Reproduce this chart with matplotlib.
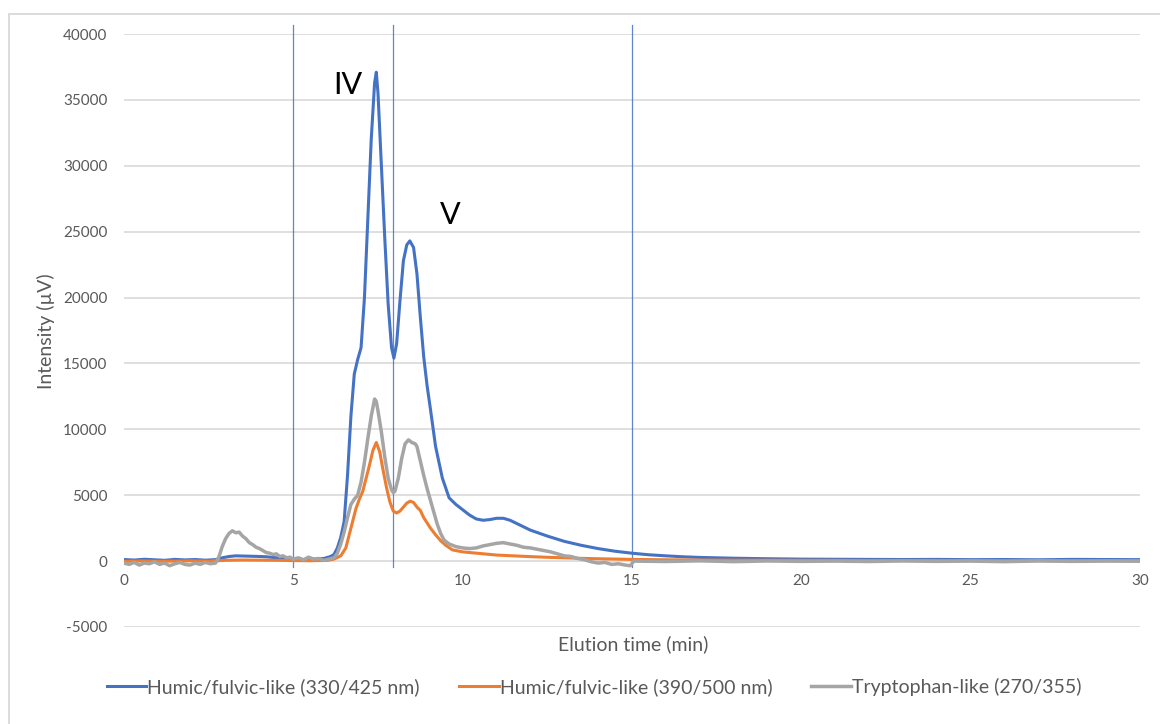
import numpy as np
from matplotlib import pyplot as plt
from matplotlib.patches import Rectangle

plt.rcParams['font.family'] = ['Lato', 'DejaVu Sans']
plt.rcParams['axes.unicode_minus'] = False

# Humic/fulvic-like (330/425 nm)
t_hum1 = [0, 0.3, 0.6, 0.9, 1.2, 1.5, 1.8, 2.1, 2.4, 2.7, 2.9, 3.1, 3.3, 3.6, 3.9,
          4.2, 4.5, 4.8, 5.0, 5.3, 5.6, 5.9, 6.1, 6.2, 6.3, 6.4, 6.5, 6.6, 6.7, 6.8,
          6.9, 7.0, 7.1, 7.2, 7.3, 7.4, 7.45, 7.5, 7.6, 7.7, 7.8, 7.9, 7.97, 8.05,
          8.15, 8.25, 8.35, 8.44, 8.55, 8.65, 8.75, 8.85, 8.95, 9.05, 9.2, 9.4, 9.6,
          9.8, 10.0, 10.2, 10.4, 10.6, 10.8, 11.0, 11.2, 11.4, 11.6, 11.8, 12.0, 12.5,
          13.0, 13.5, 14.0, 14.5, 15.0, 15.5, 16.0, 16.5, 17, 18, 19, 20, 21, 22, 23,
          24, 25, 26, 27, 28, 29, 30]
i_hum1 = [120, 80, 140, 100, 60, 130, 90, 120, 70, 110, 250, 350, 400, 380, 360,
          330, 250, 180, 150, 120, 150, 200, 350, 500, 1000, 1800, 3000, 6500, 11000, 14200,
          15300, 16200, 20000, 26000, 32000, 36300, 37100, 35500, 30000, 24500, 19500, 16200, 15400, 16500,
          19800, 22800, 24000, 24300, 23800, 21800, 18500, 15500, 13300, 11500, 8700, 6300, 4800,
          4300, 3900, 3500, 3200, 3100, 3150, 3250, 3250, 3100, 2850, 2600, 2350, 1900,
          1500, 1200, 950, 750, 600, 480, 400, 330, 280, 220, 180, 150, 140, 130, 120,
          130, 110, 120, 100, 130, 120, 110]

# Humic/fulvic-like (390/500 nm)
t_hum2 = [0, 0.5, 1.0, 1.5, 2.0, 2.5, 3.0, 3.5, 4.0, 4.5, 5.0, 5.5, 6.0, 6.2, 6.4,
          6.55, 6.7, 6.85, 6.95, 7.05, 7.15, 7.25, 7.35, 7.45, 7.55, 7.65, 7.75, 7.85,
          7.95, 8.05, 8.15, 8.25, 8.35, 8.45, 8.55, 8.65, 8.75, 8.85, 8.95, 9.05, 9.2,
          9.35, 9.5, 9.7, 10.0, 10.5, 11, 11.5, 12, 12.5, 13, 13.5, 14, 15, 16, 17, 18,
          20, 22, 24, 26, 28, 30]
i_hum2 = [-20, 10, -10, 0, 20, 0, 60, 80, 70, 60, 40, 30, 50, 150, 400,
          1000, 2500, 4000, 4700, 5300, 6300, 7300, 8400, 9000, 8300, 6900, 5600, 4500,
          3800, 3650, 3800, 4100, 4400, 4550, 4450, 4100, 3850, 3300, 2900, 2500, 2000,
          1550, 1200, 850, 700, 580, 460, 400, 340, 290, 250, 210, 180, 130, 100, 80, 70,
          60, 50, 50, 40, 40, 40]

# Tryptophan-like (270/355)
t_tryp = [0.0, 0.15, 0.3, 0.45, 0.6, 0.75, 0.9, 1.05, 1.2, 1.35, 1.5, 1.65, 1.8, 1.95,
          2.1, 2.25, 2.4, 2.55, 2.7, 2.8, 2.9, 3.0, 3.1, 3.2, 3.3, 3.4, 3.5, 3.6, 3.7,
          3.8, 3.9, 4.0, 4.1, 4.2, 4.3, 4.4, 4.5, 4.6, 4.7, 4.8, 4.9, 5.0, 5.15, 5.3,
          5.45, 5.6, 5.75, 5.9, 6.05, 6.2, 6.3, 6.4, 6.5, 6.6, 6.7, 6.8, 6.9, 7.0, 7.1,
          7.2, 7.3, 7.4, 7.45, 7.5, 7.6, 7.7, 7.8, 7.9, 7.95, 8.0, 8.1, 8.2, 8.3, 8.4,
          8.5, 8.6, 8.65, 8.75, 8.85, 8.95, 9.05, 9.15, 9.25, 9.35, 9.45, 9.6, 9.8, 10.0,
          10.2, 10.4, 10.6, 10.8, 11.0, 11.2, 11.4, 11.6, 11.8, 12.0, 12.2, 12.4, 12.6,
          12.8, 13.0, 13.2, 13.4, 13.6, 13.8, 14.0, 14.2, 14.4, 14.6, 14.8, 14.95, 15.05,
          16, 17, 18, 19, 20, 21, 22, 23, 24, 25, 26, 27, 28, 29, 30]
i_tryp = [-150, -250, -100, -300, -150, -200, -50, -250, -150, -350, -200, -100, -250, -300,
          -150, -250, -100, -200, -150, 300, 1100, 1700, 2100, 2300, 2150, 2200, 1900, 1700, 1400,
          1250, 1050, 950, 800, 650, 600, 500, 550, 350, 400, 250, 300, 150, 250, 100,
          300, 150, 200, 50, 150, 250, 600, 1300, 2200, 3300, 4300, 4700, 5000, 6000, 7500,
          9300, 11000, 12300, 12100, 11400, 9800, 7900, 6300, 5400, 5200, 5300, 6300, 7800, 8900, 9200,
          9000, 8900, 8700, 7600, 6500, 5500, 4600, 3700, 2800, 2100, 1600, 1300, 1100, 1000,
          950, 1000, 1150, 1250, 1350, 1400, 1300, 1200, 1050, 1000, 900, 800, 700,
          550, 400, 350, 200, 100, -50, -150, -100, -250, -200, -300, -350, 0,
          -30, 20, -40, 10, -20, 0, -30, 10, -20, 0, -40, 10, -20, 0, -10]

series_labels = ['Humic/fulvic-like (330/425 nm)', 'Humic/fulvic-like (390/500 nm)',
                 'Tryptophan-like (270/355)']
series_colors = ['#4472C4', '#ED7D31', '#A5A5A5']
series_widths = [2.2, 2.2, 2.5]

# fraction boundaries (min) and peak labels
cut_times = [5.0, 7.94, 15.0]
peak_names = ['IV', 'V']
peak_pos = [(6.61, 36100), (9.62, 26300)]

text_grey = '#595959'

fig = plt.figure(figsize=(11.6, 7.24), dpi=100)
fig.patches.append(Rectangle((9 / 1160, -0.1), 1.2, 1 - 14 / 724 + 0.1, transform=fig.transFigure,
                             fill=False, edgecolor='#D9D9D9', linewidth=1.3))
ax = fig.add_axes([124 / 1160, 1 - 627 / 724, 1016 / 1160, 593 / 724])

for t, y, lab, col, w in zip([t_hum1, t_hum2, t_tryp], [i_hum1, i_hum2, i_tryp],
                             series_labels, series_colors, series_widths):
    ax.plot(t, y, color=col, lw=w, label=lab, solid_joinstyle='round')

for c in cut_times:
    ax.plot([c, c], [-450, 40700], color='#4472C4', lw=0.9, alpha=0.85, clip_on=False, zorder=1)

for name, (px, py) in zip(peak_names, peak_pos):
    ax.text(px, py, name, fontsize=22, ha='center', va='center', color='black')

ax.set_xlim(0, 30)
ax.set_ylim(-5000, 40000)
ax.set_xticks(np.arange(0, 31, 5))
ax.set_yticks(np.arange(-5000, 40001, 5000))
ax.grid(axis='y', color='#D9D9D9', lw=1.2)
ax.set_axisbelow(True)
for s in ['top', 'right', 'left']:
    ax.spines[s].set_visible(False)
ax.spines['bottom'].set_position(('data', 0))
ax.spines['bottom'].set_visible(False)
ax.tick_params(axis='both', length=0, labelsize=11, labelcolor=text_grey)
ax.tick_params(axis='x', pad=9)
ax.tick_params(axis='y', pad=12)

ax.set_xlabel('Elution time (min)', fontsize=14, color=text_grey)
ax.xaxis.set_label_coords(509 / 1016, (627 - 635) / 593)
ax.set_ylabel('Intensity (\u00b5V)', fontsize=14, color=text_grey)
ax.yaxis.set_label_coords((55 - 124) / 1016, (627 - 331) / 593)

ax.legend(loc='center', bbox_to_anchor=((594 - 124) / 1016, -(687 - 627) / 593), ncol=3,
          frameon=False, fontsize=14, labelcolor=text_grey, handlelength=2.05,
          handletextpad=0.05, columnspacing=2.0)

plt.savefig('out.png', dpi=100)
